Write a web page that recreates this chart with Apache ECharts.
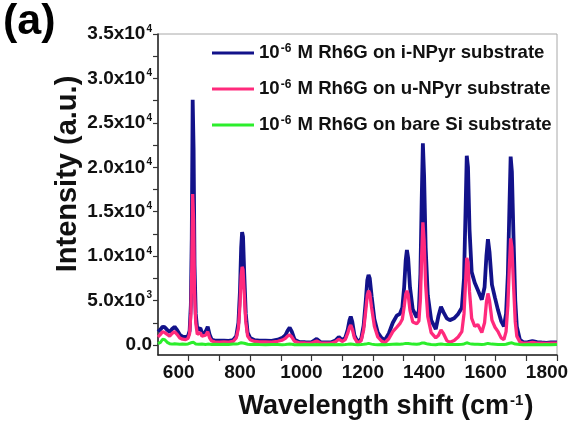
<!DOCTYPE html>
<html>
<head>
<meta charset="utf-8">
<script src="https://cdn.jsdelivr.net/npm/echarts@6/dist/echarts.min.js"></script>
<style>
  html, body { margin: 0; padding: 0; background: #fff; }
  #chart { width: 569px; height: 428px; }
</style>
</head>
<body>
<div id="chart"></div>
<script>
// Raman shift positions (cm^-1) shared by all three spectra
const wavenumber = [
  500, 508, 515, 522, 530, 538, 546, 554, 562, 571,
  580, 590, 598, 603, 607, 610, 613, 616, 619, 623,
  628, 633, 638, 643, 648, 655, 662, 668, 675, 685,
  700, 715, 730, 745, 755, 762, 767, 771, 774, 777,
  781, 786, 792, 800, 815, 830, 850, 870, 890, 905,
  915, 922, 929, 936, 945, 960, 980, 1000, 1017, 1030,
  1050, 1065, 1078, 1089, 1100, 1110, 1118, 1124, 1128, 1133,
  1140, 1151, 1162, 1170, 1177, 1182, 1186, 1190, 1196, 1205,
  1216, 1228, 1239, 1252, 1265, 1278, 1288, 1296, 1302, 1307,
  1311, 1315, 1321, 1330, 1343, 1350, 1355, 1359, 1363, 1367,
  1372, 1379, 1390, 1405, 1414, 1422, 1430, 1441, 1451, 1465,
  1478, 1490, 1497, 1502, 1506, 1510, 1515, 1522, 1532, 1542,
  1555, 1564, 1570, 1575, 1580, 1588, 1598, 1608, 1618, 1627,
  1634, 1640, 1645, 1649, 1653, 1658, 1664, 1669, 1679, 1690,
  1705, 1720, 1735, 1750, 1765, 1780, 1800
];

// Rh6G on i-NPyr substrate
const iNPyr = [
  1500, 1750, 2050, 2000, 1700, 1450, 1800, 2050, 1700, 1150,
  950, 900, 1000, 1600, 4500, 12000, 27600, 22000, 9000, 3500,
  1700, 1500, 1900, 1400, 1150, 1500, 2050, 1200, 600, 500,
  480, 500, 470, 560, 1000, 2500, 6000, 11000, 12700, 12200,
  8000, 3500, 1400, 800, 550, 480, 500, 460, 600, 800,
  1100, 1600, 1950, 1500, 600, 350, 320, 300, 680, 320,
  280, 300, 500, 900, 550, 800, 1700, 2800, 3200, 2600,
  1100, 300, 700, 2200, 5000, 7300, 7900, 7500, 5500, 2900,
  1400, 800, 550, 1300, 2500, 3300, 3500, 4200, 6500, 9500,
  10700, 9800, 6500, 4000, 3100, 3900, 8000, 16000, 22700, 19000,
  11000, 5600, 2800, 1800, 3300, 4300, 3700, 3000, 2800, 3000,
  3500, 4200, 7500, 15000, 21300, 20000, 13000, 8200, 7000, 6200,
  5100, 6500, 10000, 11900, 10500, 6800, 5300, 3900, 2700, 2100,
  3500, 8000, 15500, 21200, 19500, 12500, 5000, 2100, 600, 300,
  320, 450, 320, 280, 250, 280, 300
];

// Rh6G on u-NPyr substrate
const uNPyr = [
  900, 1200, 1500, 1400, 1200, 1000, 1300, 1500, 1200, 800,
  650, 600, 750, 1300, 3500, 8500, 17000, 14000, 6000, 2500,
  1200, 1100, 1400, 1000, 850, 1100, 1500, 800, 450, 350,
  330, 350, 330, 420, 800, 1900, 4500, 7800, 8800, 8500,
  5800, 2600, 1000, 600, 400, 340, 350, 330, 420, 550,
  750, 1000, 1150, 900, 400, 250, 230, 220, 450, 230,
  200, 220, 350, 650, 400, 600, 1300, 2000, 2250, 1800,
  800, 220, 500, 1700, 3900, 5600, 6100, 5800, 4200, 2100,
  900, 450, 250, 700, 1500, 2000, 2400, 2900, 4300, 5700,
  6100, 5700, 3900, 2600, 2400, 2700, 5200, 10000, 13800, 11800,
  6800, 3200, 1400, 800, 1100, 1700, 1300, 500, 300, 500,
  900, 1500, 3500, 7000, 9800, 9300, 6000, 3000, 2100, 2300,
  1400, 2500, 4800, 5800, 5000, 2800, 2000, 1500, 800, 600,
  1500, 4500, 9000, 12000, 11000, 7000, 2600, 1000, 350, 200,
  220, 300, 220, 200, 180, 200, 220
];

// Rh6G on bare Si substrate
const bareSi = [
  150, 300, 650, 600, 300, 150, 100, 150, 120, 80,
  100, 80, 120, 150, 250, 350, 400, 300, 180, 120,
  100, 80, 120, 100, 80, 60, 100, 80, 60, 80,
  60, 80, 60, 100, 120, 150, 200, 250, 280, 250,
  200, 120, 80, 60, 80, 60, 40, 60, 50, 40,
  60, 80, 100, 80, 40, 30, 50, 40, 60, 40,
  30, 50, 40, 60, 40, 50, 80, 100, 120, 100,
  60, 40, 60, 80, 100, 150, 180, 150, 100, 60,
  40, 50, 30, 60, 80, 100, 90, 100, 130, 180,
  200, 180, 130, 100, 80, 100, 150, 220, 280, 230,
  160, 100, 60, 40, 80, 100, 80, 60, 50, 60,
  70, 90, 120, 180, 250, 230, 160, 100, 80, 90,
  70, 80, 120, 180, 150, 100, 80, 60, 50, 60,
  80, 120, 200, 280, 250, 170, 100, 70, 50, 40,
  50, 40, 60, 40, 50, 30, 60
];

const seriesNames = [
  '10-6 M Rh6G on i-NPyr substrate',
  '10-6 M Rh6G on u-NPyr substrate',
  '10-6 M Rh6G on bare Si substrate'
];
const legendText = [
  ' M Rh6G on i-NPyr substrate',
  ' M Rh6G on u-NPyr substrate',
  ' M Rh6G on bare Si substrate'
];
const seriesColors = ['#12128a', '#ff2a7c', '#2cee2c'];

const xTickLabels = [600, 800, 1000, 1200, 1400, 1600, 1800];
const xTicks = [600, 700, 800, 900, 1000, 1100, 1200, 1300, 1400, 1500, 1600, 1700, 1800];
const yTickLabels = [0, 5000, 10000, 15000, 20000, 25000, 30000, 35000];
const yTicks = [0, 2500, 5000, 7500, 10000, 12500, 15000, 17500, 20000, 22500, 25000, 27500, 30000, 32500, 35000];

const FONT = '"Liberation Sans", Arial, sans-serif';

function yLabel(v) {
  if (v === 0) return '{a|0.0}';
  const exp = Math.floor(Math.log10(v));
  const mant = (v / Math.pow(10, exp)).toFixed(1);
  return '{a|' + mant + 'x10}{s|' + exp + '}';
}

const chart = echarts.init(document.getElementById('chart'), null, { renderer: 'canvas' });

const pairs = arr => wavenumber.map((x, i) => [x, arr[i]]);
const seriesData = [iNPyr, uNPyr, bareSi];
const lineWidths = [3.8, 3.3, 3];

chart.setOption({
  animation: false,
  backgroundColor: '#ffffff',
  grid: {
    left: 158, right: 12, top: 34, bottom: 73,
    containLabel: false,
    outerBoundsMode: 'none',
    show: true, borderColor: '#a8a8a8', borderWidth: 1, backgroundColor: 'transparent'
  },
  legend: {
    orient: 'vertical',
    left: 207,
    top: 38,
    itemWidth: 42,
    itemHeight: 14,
    itemGap: 14,
    icon: 'path://M0,6 L42,6 L42,9 L0,9 Z',
    data: seriesNames,
    formatter: name => {
      const i = seriesNames.indexOf(name);
      return '{a|10}{s|-6}{a|' + legendText[i] + '}';
    },
    textStyle: {
      color: '#111',
      rich: {
        a: { fontFamily: FONT, fontWeight: 'bold', fontSize: 18.6, lineHeight: 24, color: '#111' },
        s: { fontFamily: FONT, fontWeight: 'bold', fontSize: 12, lineHeight: 24, color: '#111',
             verticalAlign: 'bottom', padding: [0, 1, 10, 1] }
      }
    }
  },
  xAxis: {
    type: 'value',
    min: 500, max: 1800,
    splitLine: { show: false },
    axisLine: { show: true, onZero: false, lineStyle: { color: '#222', width: 1.5 } },
    axisTick: { show: true, inside: false, length: 6, customValues: xTicks, lineStyle: { color: '#333', width: 1.2 } },
    axisLabel: {
      customValues: xTickLabels,
      formatter: v => '{a|' + v + '}',
      margin: 8,
      color: '#111',
      rich: {
        a: { fontFamily: FONT, fontWeight: 'bold', fontSize: 19, color: '#111', padding: [0, 20, 0, 0] }
      }
    }
  },
  yAxis: {
    type: 'value',
    min: -1125, max: 35000,
    splitLine: { show: false },
    axisLine: { show: true, onZero: false, lineStyle: { color: '#222', width: 1.5 } },
    axisTick: { show: true, inside: false, length: 5, customValues: yTicks, lineStyle: { color: '#333', width: 1.2 } },
    axisLabel: {
      customValues: yTickLabels,
      margin: 6,
      formatter: yLabel,
      rich: {
        a: { fontFamily: FONT, fontWeight: 'bold', fontSize: 19, color: '#111', lineHeight: 22 },
        s: { fontFamily: FONT, fontWeight: 'bold', fontSize: 10, color: '#111', lineHeight: 22,
             verticalAlign: 'bottom', padding: [0, 0, 11, 1] }
      }
    }
  },
  series: seriesNames.map((name, i) => ({
    name,
    type: 'line',
    data: pairs(seriesData[i]),
    symbol: 'none',
    smooth: false,
    z: 2 + i,
    lineStyle: { color: seriesColors[i], width: lineWidths[i] },
    itemStyle: { color: seriesColors[i] }
  })),
  graphic: [
    {
      type: 'text', left: 3, top: 1,
      style: { text: '(a)', font: 'bold 43px ' + FONT, fill: '#000' }
    },
    {
      type: 'text',
      x: 68, y: 174, rotation: Math.PI / 2,
      style: {
        text: 'Intensity (a.u.)',
        font: 'bold 29px ' + FONT, fill: '#111',
        textAlign: 'center', textVerticalAlign: 'middle'
      }
    },
    {
      type: 'text',
      x: 386, y: 407,
      style: {
        text: '{a|Wavelength shift (cm}{s|-1}{a|)}',
        textAlign: 'center', textVerticalAlign: 'middle',
        rich: {
          a: { font: 'bold 27px ' + FONT, fill: '#111', lineHeight: 30 },
          s: { font: 'bold 15px ' + FONT, fill: '#111', lineHeight: 30,
               verticalAlign: 'bottom', padding: [0, 1, 14, 1] }
        }
      }
    }
  ]
});
</script>
</body>
</html>
